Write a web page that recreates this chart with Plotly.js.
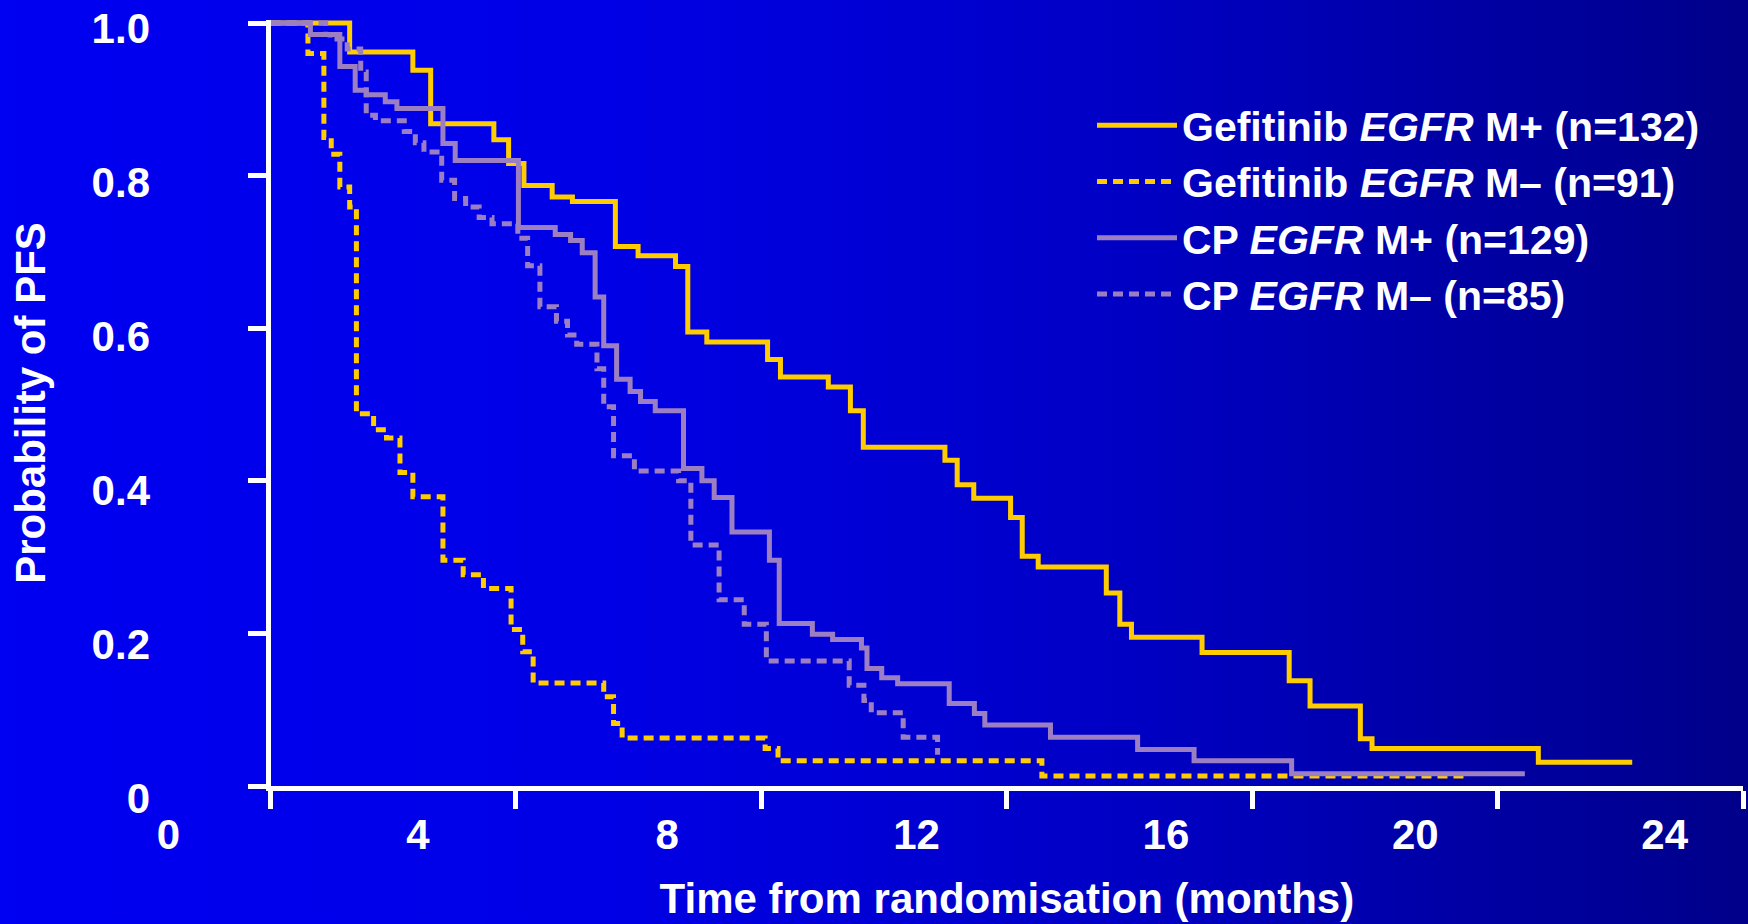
<!DOCTYPE html>
<html>
<head>
<meta charset="utf-8">
<script src="https://cdn.plot.ly/plotly-3.0.1.min.js"></script>
<style>
html,body{margin:0;padding:0;background:#000080;}
#chart{width:1748px;height:924px;background:linear-gradient(90deg,#0000f2 0%,#0000e6 35%,#0000c4 65%,#00008a 100%);}
</style>
</head>
<body>
<div id="chart"></div>
<script>
// ---- data (months, probability of PFS) ----
const gefPosX = [0, 1.29, 2.32, 2.61, 3.64, 3.88, 4.13, 4.59, 4.92, 5.62, 5.99, 6.60, 6.80, 7.11, 8.10, 8.31, 9.09, 9.45, 9.66, 10.99, 11.19, 11.46, 12.06, 12.25, 12.51, 13.62, 13.84, 14.03, 15.18, 16.60, 16.94, 17.76, 17.95, 20.66, 22.19];
const gefPosY = [1.0, 0.962, 0.938, 0.868, 0.847, 0.816, 0.787, 0.772, 0.766, 0.707, 0.695, 0.681, 0.595, 0.582, 0.559, 0.536, 0.523, 0.492, 0.444, 0.427, 0.395, 0.377, 0.352, 0.301, 0.287, 0.253, 0.212, 0.195, 0.175, 0.138, 0.105, 0.062, 0.049, 0.031, 0.031];

const gefNegX = [0, 0.61, 0.87, 0.99, 1.13, 1.29, 1.40, 1.68, 1.89, 2.11, 2.32, 2.81, 3.14, 3.47, 3.92, 4.11, 4.28, 5.43, 5.59, 5.73, 8.06, 8.27, 12.57, 19.45];
const gefNegY = [1.0, 0.960, 0.850, 0.828, 0.785, 0.759, 0.488, 0.467, 0.456, 0.411, 0.379, 0.296, 0.277, 0.259, 0.205, 0.176, 0.135, 0.117, 0.082, 0.063, 0.049, 0.033, 0.013, 0.013];

const cpPosX = [0, 0.65, 1.13, 1.38, 1.56, 1.87, 2.06, 2.81, 3.01, 4.04, 4.64, 4.89, 5.08, 5.29, 5.43, 5.64, 5.86, 6.03, 6.27, 6.73, 7.03, 7.23, 7.52, 8.13, 8.29, 8.83, 9.16, 9.63, 9.72, 9.96, 10.22, 11.06, 11.47, 11.64, 12.71, 14.13, 15.05, 16.64, 20.44];
const cpPosY = [1.0, 0.985, 0.943, 0.912, 0.906, 0.897, 0.888, 0.842, 0.820, 0.732, 0.723, 0.715, 0.699, 0.641, 0.577, 0.533, 0.517, 0.504, 0.492, 0.416, 0.400, 0.378, 0.333, 0.296, 0.213, 0.199, 0.192, 0.181, 0.154, 0.142, 0.134, 0.108, 0.095, 0.080, 0.064, 0.048, 0.033, 0.016, 0.016];

const cpNegX = [0, 0.90, 0.97, 1.25, 1.47, 1.56, 1.71, 2.18, 2.36, 2.50, 2.79, 3.00, 3.18, 3.40, 3.61, 4.03, 4.19, 4.39, 4.66, 4.84, 4.99, 5.32, 5.43, 5.59, 5.93, 6.65, 6.85, 7.31, 7.72, 8.08, 9.43, 9.67, 9.79, 10.31, 10.87];
const cpNegY = [1.0, 0.985, 0.979, 0.966, 0.936, 0.879, 0.872, 0.858, 0.843, 0.831, 0.794, 0.770, 0.759, 0.745, 0.737, 0.718, 0.682, 0.628, 0.609, 0.591, 0.579, 0.547, 0.497, 0.433, 0.413, 0.400, 0.316, 0.244, 0.212, 0.164, 0.132, 0.112, 0.096, 0.064, 0.041];

const seriesNames = [
  'Gefitinib <i>EGFR</i> M+ (n=132)',
  'Gefitinib <i>EGFR</i> M\u2013 (n=91)',
  'CP <i>EGFR</i> M+ (n=129)',
  'CP <i>EGFR</i> M\u2013 (n=85)'
];
const xTickVals = [0, 4, 8, 12, 16, 20, 24];
const xTickText = ['0', '4', '8', '12', '16', '20', '24'];
const yTickVals = [0, 0.2, 0.4, 0.6, 0.8, 1.0];
const yTickText = ['0', '0.2', '0.4', '0.6', '0.8', '1.0'];
const xTitle = 'Time from randomisation (months)';
const yTitle = 'Probability of PFS';

// ---- styling ----
const YELLOW = '#ffcc00';
const LAVENDER = '#9c7fc2';
const DOTS = '10px,6px';
const W = 1748, H = 924;
const px = v => v / W;
const py = v => 1 - v / H;
const FONT = 'Liberation Sans, Arial, Helvetica, sans-serif';

function km(x, y, name, color, dash) {
  return {
    type: 'scatter', mode: 'lines', x: x, y: y, name: name,
    line: {shape: 'hv', width: 5, color: color, dash: dash},
    xaxis: 'x', yaxis: 'y', hoverinfo: 'x+y+name'
  };
}

const data = [
  km(gefPosX, gefPosY, seriesNames[0], YELLOW, 'solid'),
  km(gefNegX, gefNegY, seriesNames[1], YELLOW, DOTS),
  km(cpPosX, cpPosY, seriesNames[2], LAVENDER, 'solid'),
  km(cpNegX, cpNegY, seriesNames[3], LAVENDER, DOTS),
  // carrier for the label-only axes (no marks)
  {type: 'scatter', mode: 'lines', x: [], y: [], xaxis: 'x2', yaxis: 'y2',
   showlegend: false, hoverinfo: 'skip', name: 'axis labels'}
];

const axisCommon = {showgrid: false, zeroline: false, fixedrange: true};

const layout = {
  width: W, height: H,
  margin: {l: 0, r: 0, t: 0, b: 0, pad: 0},
  paper_bgcolor: 'rgba(0,0,0,0)',
  plot_bgcolor: 'rgba(0,0,0,0)',
  font: {family: FONT, color: '#ffffff', size: 42, weight: 'bold'},
  showlegend: true,
  legend: {
    x: px(1092), y: py(92), xanchor: 'left', yanchor: 'top',
    bgcolor: 'rgba(0,0,0,0)', borderwidth: 0, itemwidth: 80,
    tracegroupgap: 0,
    font: {family: FONT, size: 41, color: '#ffffff', weight: 'bold'}
  },
  xaxis: Object.assign({}, axisCommon, {
    domain: [px(270.5), px(1743.3)], range: [0, 24], anchor: 'y',
    showline: true, linecolor: '#ffffff', linewidth: 5,
    ticks: 'outside', ticklen: 18, tickwidth: 5, tickcolor: '#ffffff',
    tickmode: 'array', tickvals: xTickVals, showticklabels: false,
    title: {text: xTitle, font: {family: FONT, size: 42, color: '#ffffff', weight: 'bold'}, standoff: 77}
  }),
  yaxis: Object.assign({}, axisCommon, {
    domain: [py(786), py(20)], range: [0, 1.004], anchor: 'x',
    showline: true, linecolor: '#ffffff', linewidth: 5,
    ticks: 'outside', ticklen: 18, tickwidth: 5, tickcolor: '#ffffff',
    tickmode: 'array', tickvals: yTickVals, showticklabels: false,
    title: {text: yTitle, font: {family: FONT, size: 42, color: '#ffffff', weight: 'bold'}, standoff: 190}
  }),
  // label-only axis carrying the month labels, placed where the reference prints them
  xaxis2: Object.assign({}, axisCommon, {
    domain: [px(168.5), px(1664.7)], range: [0, 24], anchor: 'free', position: py(786),
    showline: false, ticks: '', tickmode: 'array', tickvals: xTickVals, ticktext: xTickText,
    tickfont: {family: FONT, size: 42, color: '#ffffff', weight: 'bold'}, ticklabelstandoff: 20
  }),
  // label-only axis carrying the probability labels
  yaxis2: Object.assign({}, axisCommon, {
    domain: [py(798), py(28)], range: [0, 1], anchor: 'free', position: px(150), side: 'left',
    showline: false, ticks: '', tickmode: 'array', tickvals: yTickVals, ticktext: yTickText,
    tickfont: {family: FONT, size: 42, color: '#ffffff', weight: 'bold'}
  })
};

Plotly.newPlot('chart', data, layout, {displayModeBar: false, staticPlot: true});
</script>
</body>
</html>
